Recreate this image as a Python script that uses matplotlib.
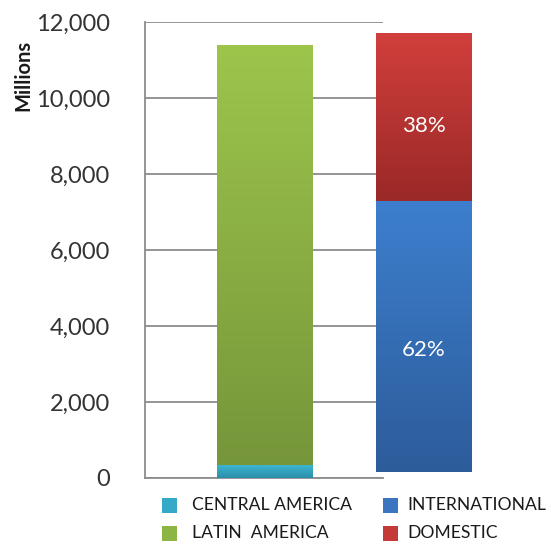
import numpy as np
import matplotlib
matplotlib.use("Agg")
import matplotlib.pyplot as plt
from matplotlib.colors import LinearSegmentedColormap
from matplotlib.patches import Rectangle

# datos (millones)
region_labels = ["CENTRAL AMERICA", "LATIN  AMERICA"]
region_values = [350, 11050]
market_labels = ["INTERNATIONAL", "DOMESTIC"]
market_values = [7150, 4400]
market_base = 150
y_ticks = [0, 2000, 4000, 6000, 8000, 10000, 12000]

# colores (arriba, abajo) del degradado
region_colors = [("#3fb8d4", "#2a8ea8"), ("#9dc54c", "#76963a")]
market_colors = [("#3d7fce", "#2d5c9a"), ("#d13f3c", "#9a2927")]
legend_colors = ["#35a9c8", "#8db544", "#3b74bf", "#c43a37"]

plt.rcParams["font.family"] = ["Lato", "DejaVu Sans"]

W, H = 551, 547
fig = plt.figure(figsize=(W/100, H/100), dpi=100)
ax = fig.add_axes([145/W, 69/H, 238/W, 456/H])

width = 0.6


def bar_grad(x, bottom, height, colors):
    cmap = LinearSegmentedColormap.from_list("g", [colors[1], colors[0]])
    grad = np.linspace(0, 1, 256).reshape(-1, 1)
    im = ax.imshow(grad, cmap=cmap, origin="lower", aspect="auto",
                   extent=(x - width/2, x + width/2, bottom, bottom + height),
                   zorder=3)
    im.set_clip_box(fig.bbox)


# barra 1: regiones
bottom = 0
for v, c in zip(region_values, region_colors):
    bar_grad(0, bottom, v, c)
    bottom += v

# barra 2: mercado
total = sum(market_values)
bottom = market_base
for v, c in zip(market_values, market_colors):
    bar_grad(1, bottom, v, c)
    pct = v / total * 100
    off = -350 if pct > 50 else -250
    ax.text(1, bottom + v/2 + off, f"{pct:.0f}%", ha="center", va="center",
            color="white", fontsize=16, zorder=5, clip_on=False)
    bottom += v

ax.set_xlim(-0.755, 0.742)
ax.set_ylim(0, 12000)
ax.set_yticks(y_ticks)
ax.set_yticklabels([f"{t:,}" for t in y_ticks], fontsize=17, color="#333333")
ax.set_xticks([])
ax.tick_params(axis="y", length=0, pad=25)
ax.yaxis.grid(True, color="#8c8c8c", linewidth=1.3, zorder=0)
ax.set_axisbelow(True)
for s in ["top", "right"]:
    ax.spines[s].set_visible(False)
for s in ["left", "bottom"]:
    ax.spines[s].set_color("#8c8c8c")
    ax.spines[s].set_linewidth(1.3)

fig.text(23/W, 1 - 75/H, "Millions", rotation=90, ha="center", va="center",
         fontsize=14.5, fontweight="bold", color="#1a1a1a")

# leyenda manual en dos columnas
labels = region_labels + market_labels
col_x = [162, 383]
row_y = [505, 533]
for i, (lab, col) in enumerate(zip(labels, legend_colors)):
    cx = col_x[i // 2]
    cy = row_y[i % 2]
    fig.patches.append(Rectangle((cx/W, 1 - (cy + 7.5)/H), 15/W, 15/H,
                                 transform=fig.transFigure, facecolor=col,
                                 edgecolor="none"))
    fig.text((cx + 30 if i < 2 else cx + 24)/W, 1 - cy/H, lab,
             ha="left", va="center", fontsize=12.6, color="#1a1a1a")

fig.savefig("out.png", dpi=100)
